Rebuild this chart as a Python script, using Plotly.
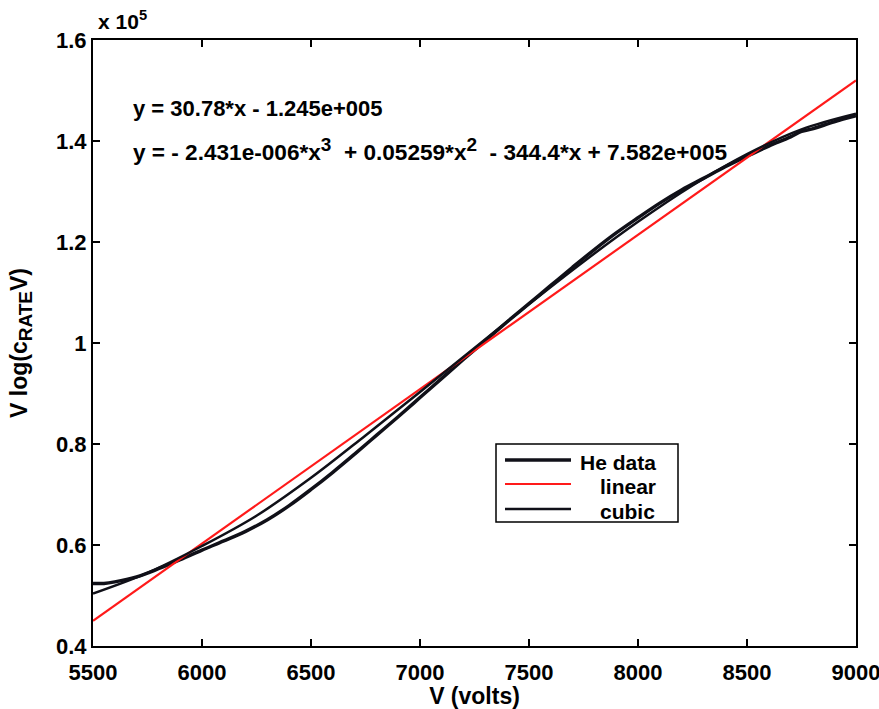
import plotly.graph_objects as go

# ---------------- data ----------------
he_v = [5500, 5550, 5600, 5700, 5800, 5900, 6000, 6100, 6200, 6300, 6400, 6500,
        6600, 6700, 6800, 6900, 7000, 7100, 7200, 7300, 7400, 7500, 7600, 7700,
        7800, 7900, 8000, 8100, 8200, 8300, 8400, 8500, 8600, 8700, 8750, 8800,
        8900, 9000]
he_y = [52400, 52400, 52700, 53700, 55300, 57100, 59000, 60800, 62700, 65000, 67800, 71000,
        74400, 78000, 81700, 85400, 89200, 93000, 96800, 100500, 104200, 107800, 111400, 115000,
        118500, 121800, 124800, 127700, 130300, 132600, 134900, 137000, 139000, 140800, 141900, 142400,
        143800, 145000]

lin_v = [5500, 9000]
lin_y = [45000, 152000]

cub_v = [5500, 5750, 6000, 6250, 6500, 6750, 7000, 7250, 7500, 7750, 8000, 8250,
         8500, 8750, 9000]
cub_y = [50400, 54500, 59800, 65800, 73300, 81700, 90300, 99000, 107700, 116100, 124000, 131200,
         137400, 142300, 145400]

x_ticks = [5500, 6000, 6500, 7000, 7500, 8000, 8500, 9000]
y_ticks = [40000, 60000, 80000, 100000, 120000, 140000, 160000]
y_tick_labels = ["0.4", "0.6", "0.8", "1", "1.2", "1.4", "1.6"]

legend_labels = ["He data", "linear", "cubic"]

eq_linear = "y = 30.78*x - 1.245e+005"
eq_cubic = ("y = - 2.431e-006*x<sup><span style='font-size:19px'>3</span></sup>\u00a0 + 0.05259*x"
            "<sup><span style='font-size:19px'>2</span></sup>\u00a0 - 344.4*x + 7.582e+005")

FONT = "Liberation Sans, Arial, sans-serif"
BLACK = "#101018"
RED = "#ff1a1a"

fig = go.Figure()
fig.add_trace(go.Scatter(x=he_v, y=he_y, mode="lines", name=legend_labels[0],
                         line=dict(color=BLACK, width=3.5, shape="spline")))
fig.add_trace(go.Scatter(x=lin_v, y=lin_y, mode="lines", name=legend_labels[1],
                         line=dict(color=RED, width=2.2)))
fig.add_trace(go.Scatter(x=cub_v, y=cub_y, mode="lines", name=legend_labels[2],
                         line=dict(color=BLACK, width=2.5, shape="spline")))

axis_common = dict(
    showgrid=False, zeroline=False, showline=True, linecolor="black", linewidth=2,
    mirror="ticks", ticks="inside", ticklen=7, tickwidth=1.5, tickcolor="black",
    ticklabeloverflow="allow", automargin=False,
    tickfont=dict(family=FONT, size=22, color="black", weight="bold"),
)

# ---- legend box (drawn like the MATLAB legend) in pixel-derived paper coords ----
W, H = 879, 709
L, R, T, B = 93, 23, 40, 63
pw, ph = W - L - R, H - T - B


def px(x):
    return (x - L) / pw


def py(y):
    return (H - B - y) / ph


shapes = [dict(type="rect", xref="paper", yref="paper",
               x0=px(496), x1=px(678), y0=py(522), y1=py(444),
               line=dict(color="black", width=1.5), fillcolor="white", layer="above")]
legend_rows = [(460, 3.5, BLACK, 578), (484, 2.2, RED, 598), (509, 2.5, BLACK, 598)]
annotations = []
for (yy, lw, col, tx), lab in zip(legend_rows, legend_labels):
    shapes.append(dict(type="line", xref="paper", yref="paper",
                       x0=px(505), x1=px(571), y0=py(yy), y1=py(yy),
                       line=dict(color=col, width=lw), layer="above"))
    annotations.append(dict(text=lab, xref="paper", yref="paper", x=px(tx), y=py(yy + 2),
                            xanchor="left", yanchor="middle", showarrow=False,
                            font=dict(family=FONT, size=21, color="black", weight="bold")))

annotations += [
    dict(text="x 10<sup>5</sup>", xref="paper", yref="paper", x=px(96), y=py(35),
         xanchor="left", yanchor="bottom", showarrow=False,
         font=dict(family=FONT, size=21, color="black", weight="bold")),
    dict(text=eq_linear, xref="paper", yref="paper", x=px(131), y=py(108),
         xanchor="left", yanchor="middle", showarrow=False,
         font=dict(family=FONT, size=22, color="black", weight="bold")),
    dict(text=eq_cubic, xref="paper", yref="paper", x=px(131), y=py(149),
         xanchor="left", yanchor="middle", showarrow=False,
         font=dict(family=FONT, size=22.6, color="black", weight="bold")),
]

fig.update_layout(
    width=W, height=H,
    margin=dict(l=L, r=R, t=T, b=B),
    paper_bgcolor="white", plot_bgcolor="white",
    showlegend=False,
    xaxis=dict(range=[5500, 9000], tickvals=x_ticks, ticklabelstandoff=6,
               title=dict(text="V (volts)", standoff=2,
                          font=dict(family=FONT, size=23, color="black", weight="bold")),
               **axis_common),
    yaxis=dict(range=[40000, 160000], tickvals=y_ticks, ticktext=y_tick_labels,
               title=dict(text="V log(c<sub><span style='font-size:19px'>RATE</span></sub>V)",
                          standoff=22,
                          font=dict(family=FONT, size=23, color="black", weight="bold")),
               **axis_common),
    shapes=shapes,
    annotations=annotations,
)

fig.write_html("out.html")
